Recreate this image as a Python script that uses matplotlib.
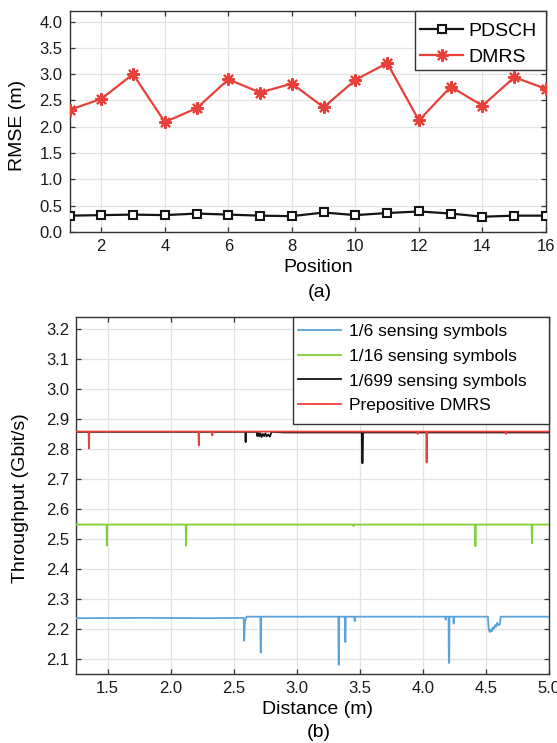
import matplotlib
matplotlib.use("Agg")
import matplotlib.pyplot as plt
from matplotlib.patches import Rectangle
from matplotlib.ticker import FormatStrFormatter, MultipleLocator
import numpy as np

plt.rcParams['font.family'] = ['Liberation Sans', 'DejaVu Sans']

# ---- (a) positioning error per test position ----
positions = list(range(1, 17))
rmse_pdsch = [0.31, 0.32, 0.33, 0.32, 0.35, 0.33, 0.31, 0.30,
              0.37, 0.32, 0.36, 0.39, 0.35, 0.29, 0.31, 0.31]
rmse_dmrs = [2.32, 2.53, 3.00, 2.09, 2.35, 2.90, 2.65, 2.82,
             2.37, 2.89, 3.21, 2.12, 2.76, 2.40, 2.94, 2.72]
rmse_labels = ["PDSCH", "DMRS"]

# ---- (b) throughput versus distance (distance m, Gbit/s) ----
pts_1_6 = [(1.25, 2.236), (1.80, 2.237), (2.30, 2.236), (2.580, 2.237),
           (2.582, 2.161), (2.584, 2.162), (2.588, 2.215), (2.595, 2.232),
           (2.603, 2.241), (2.712, 2.241), (2.714, 2.122), (2.717, 2.122),
           (2.719, 2.241), (3.330, 2.241), (3.332, 2.081), (3.335, 2.081),
           (3.337, 2.241), (3.382, 2.241), (3.384, 2.157), (3.387, 2.157),
           (3.389, 2.241), (3.456, 2.241), (3.460, 2.226), (3.464, 2.241),
           (4.178, 2.241), (4.181, 2.231), (4.184, 2.241), (4.204, 2.241),
           (4.206, 2.087), (4.209, 2.087), (4.211, 2.241), (4.241, 2.241),
           (4.244, 2.218), (4.247, 2.241), (4.516, 2.241), (4.522, 2.200),
           (4.530, 2.190), (4.538, 2.197), (4.546, 2.192), (4.554, 2.205),
           (4.562, 2.200), (4.572, 2.213), (4.580, 2.207), (4.590, 2.221),
           (4.600, 2.212), (4.611, 2.216), (4.617, 2.241), (5.00, 2.241)]
pts_1_16 = [(1.25, 2.548), (1.492, 2.548), (1.495, 2.478), (1.498, 2.548),
            (2.120, 2.548), (2.123, 2.478), (2.126, 2.548), (3.447, 2.548),
            (3.450, 2.543), (3.453, 2.548), (4.414, 2.548), (4.417, 2.476),
            (4.420, 2.548), (4.862, 2.548), (4.865, 2.486), (4.868, 2.548),
            (5.00, 2.548)]
pts_1_699 = [(1.25, 2.857), (2.592, 2.857), (2.595, 2.823), (2.598, 2.857),
             (2.683, 2.857), (2.688, 2.843), (2.695, 2.855), (2.703, 2.842),
             (2.712, 2.853), (2.722, 2.840), (2.732, 2.850), (2.742, 2.843),
             (2.752, 2.852), (2.762, 2.842), (2.775, 2.848), (2.788, 2.841),
             (2.800, 2.857), (2.900, 2.855), (3.516, 2.855), (3.519, 2.753),
             (3.523, 2.753), (3.526, 2.855), (5.00, 2.855)]
pts_dmrs = [(1.25, 2.858), (1.350, 2.858), (1.353, 2.802), (1.356, 2.858),
            (2.221, 2.858), (2.224, 2.812), (2.227, 2.858), (2.328, 2.858),
            (2.331, 2.845), (2.334, 2.858), (3.956, 2.858), (3.959, 2.850),
            (3.962, 2.858), (4.027, 2.858), (4.030, 2.755), (4.033, 2.858),
            (4.656, 2.858), (4.659, 2.850), (4.662, 2.858), (5.00, 2.858)]
tp_labels = ["1/6 sensing symbols", "1/16 sensing symbols",
             "1/699 sensing symbols", "Prepositive DMRS"]

RED = '#E8403A'
BLUE = '#5BA3D8'
GREEN = '#7FCF3A'
BLACK = '#141414'
SPINE = '#333333'
GRID = '#E3E3E3'

fig = plt.figure(figsize=(5.57, 7.43), dpi=100)
ax1 = fig.add_axes([0.1248, 0.6878, 0.8555, 0.2974])
ax2 = fig.add_axes([0.1364, 0.0929, 0.8492, 0.4805])


def style_axes(ax, fs):
    ax.grid(True, color=GRID, lw=0.9, zorder=0)
    ax.set_axisbelow(True)
    for s in ax.spines.values():
        s.set_color(SPINE)
        s.set_linewidth(1.0)
    ax.tick_params(direction='in', length=3.5, width=0.9, color=SPINE,
                   top=True, right=True, labelsize=fs, labelcolor='#1a1a1a')
    ax.tick_params(axis='x', pad=5)
    ax.tick_params(axis='y', pad=5)


# ---- panel (a) ----
ax1.plot(positions, rmse_pdsch, color=BLACK, lw=1.6, marker='s', ms=6,
         mfc='white', mec=BLACK, mew=1.5, label=rmse_labels[0], zorder=3)
ax1.plot(positions, rmse_dmrs, color=RED, lw=1.6, marker=(8, 2, 0), ms=9,
         mec=RED, mew=1.5, label=rmse_labels[1], zorder=3)
ax1.set_xlim(1, 16)
ax1.set_ylim(0, 4.2)
ax1.xaxis.set_major_locator(MultipleLocator(2))
ax1.yaxis.set_major_locator(MultipleLocator(0.5))
ax1.yaxis.set_major_formatter(FormatStrFormatter('%.1f'))
style_axes(ax1, 12)
ax1.set_xlabel("Position", fontsize=14, va='center')
ax1.xaxis.set_label_coords(0.5215, -0.16)
ax1.set_ylabel("RMSE (m)", fontsize=14, va='center')
ax1.yaxis.set_label_coords(-0.1087, 0.4805)

ax1.add_patch(Rectangle((0.726, 0.732), 0.274, 0.268, transform=ax1.transAxes,
                        facecolor='white', edgecolor=SPINE, lw=1.0,
                        zorder=4, clip_on=False))
ax1.legend(loc='upper left', bbox_to_anchor=(0.726, 0.972), frameon=False,
           fontsize=14, borderaxespad=0, borderpad=0.25, handlelength=2.2,
           handletextpad=0.25, labelspacing=0.45).set_zorder(5)

fig.text(0.574, 0.6057, "(a)", fontsize=14, ha='center', va='center')

# ---- panel (b) ----
series = [(pts_1_6, BLUE), (pts_1_16, GREEN), (pts_1_699, BLACK), (pts_dmrs, RED)]
for (pts, col), lab in zip(series, tp_labels):
    d, t = np.array(pts).T
    ax2.plot(d, t, color=col, lw=1.3, label=lab, zorder=3)

ax2.set_xlim(1.25, 5.0)
ax2.set_ylim(2.05, 3.24)
ax2.xaxis.set_major_locator(MultipleLocator(0.5))
ax2.yaxis.set_major_locator(MultipleLocator(0.1))
ax2.xaxis.set_major_formatter(FormatStrFormatter('%.1f'))
ax2.yaxis.set_major_formatter(FormatStrFormatter('%.1f'))
style_axes(ax2, 12)
ax2.set_xlabel("Distance (m)", fontsize=14, va='center')
ax2.xaxis.set_label_coords(0.510, -0.0989)
ax2.set_ylabel("Throughput (Gbit/s)", fontsize=14, va='center')
ax2.yaxis.set_label_coords(-0.1171, 0.493)

ax2.add_patch(Rectangle((0.4588, 0.7003), 0.5412, 0.2997, transform=ax2.transAxes,
                        facecolor='white', edgecolor=SPINE, lw=1.0,
                        zorder=4, clip_on=False))
ax2.legend(loc='upper left', bbox_to_anchor=(0.4588, 0.994), frameon=False,
           fontsize=12.5, borderaxespad=0, borderpad=0.28, handlelength=2.5,
           handletextpad=0.45, labelspacing=0.55).set_zorder(5)

fig.text(0.5727, 0.0135, "(b)", fontsize=14, ha='center', va='center')

fig.savefig("out.png", dpi=100)
